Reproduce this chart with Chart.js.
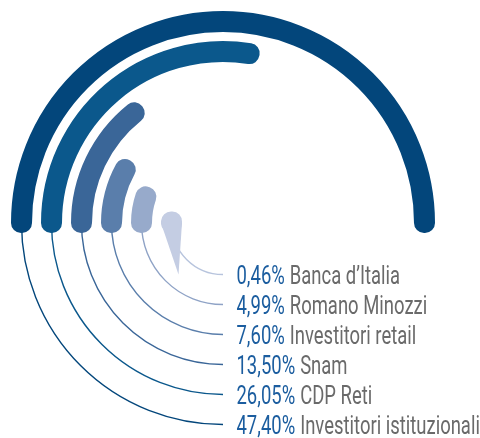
<!DOCTYPE html>
<html><head><meta charset="utf-8">
<script src="https://cdn.jsdelivr.net/npm/chart.js@4"></script>
<style>html,body{margin:0;padding:0;background:#fff}#wrap{width:480px;height:438px;position:relative}canvas{display:block}</style>
</head><body><div id="wrap"><canvas id="c" width="480" height="438"></canvas></div>
<script>
// ---- data (innermost ring first) ----
const categories = ['Banca d\u2019Italia', 'Romano Minozzi', 'Investitori retail', 'Snam', 'CDP Reti', 'Investitori istituzionali'];
const shares = [0.46, 4.99, 7.60, 13.50, 26.05, 47.40];
const shareLabels = ['0,46%', '4,99%', '7,60%', '13,50%', '26,05%', '47,40%'];
const barColors = ['#c4cde3', '#97aacb', '#5a7eab', '#3a6698', '#0b588c', '#03467b'];
const lineColors = ['#b7c4dd', '#8fa3c6', '#5a7eab', '#3a6698', '#0b588c', '#03467b'];

// ---- layout / style ----
const OUTER = 202, INNER = 51, GAP_WEIGHT = 29, STROKE = 20;
const maxShare = Math.max(...shares);
const PCT_COLOR = '#1b5d9f', NAME_COLOR = '#6a6a6a';
const FONT = '400 26px Roboto', SX = 0.71;

const datasets = [];
for (let i = shares.length - 1; i >= 0; i--) {
  datasets.push({
    data: [shares[i]],
    backgroundColor: barColors[i],
    borderColor: barColors[i],
    borderWidth: STROKE,
    borderJoinStyle: 'round',
    borderAlign: 'center',
    weight: 1,
    rotation: -90,
    circumference: shares[i] / maxShare * 180,
    idx: i
  });
  if (i > 0) datasets.push({ data: [], weight: GAP_WEIGHT });
}

function ringInfo(chart) {
  const out = [];
  chart.data.datasets.forEach((ds, k) => {
    if (ds.idx === undefined) return;
    const el = chart.getDatasetMeta(k).data[0];
    if (!el) return;
    out.push({ i: ds.idx, x: el.x, y: el.y, r: (el.innerRadius + el.outerRadius) / 2, el });
  });
  return out;
}

const decor = {
  id: 'decor',
  beforeDatasetsDraw(chart) {
    const ctx = chart.ctx;
    ringInfo(chart).forEach(g => {
      ctx.save();
      ctx.strokeStyle = lineColors[g.i];
      ctx.lineWidth = 1.4;
      ctx.beginPath();
      ctx.arc(g.x, g.y, g.r, Math.PI / 2, Math.PI, false);
      ctx.stroke();
      ctx.restore();
    });
  },
  afterDatasetsDraw(chart) {
    const ctx = chart.ctx;
    ringInfo(chart).forEach(g => {
      if (g.i !== 0) return;
      const half = (STROKE + 1) / 2;
      ctx.save();
      ctx.fillStyle = barColors[g.i];
      ctx.beginPath();
      ctx.moveTo(g.x - g.r - half, g.y);
      ctx.lineTo(g.x - g.r + half, g.y);
      ctx.lineTo(g.x - g.r + 7, g.y + g.r);
      ctx.closePath();
      ctx.fill();
      ctx.restore();
    });
  },
  afterDraw(chart) {
    const ctx = chart.ctx;
    ringInfo(chart).forEach(g => {
      ctx.save();
      ctx.translate(g.x + 13.5, g.y + g.r + 9);
      ctx.scale(SX, 1);
      ctx.font = FONT;
      ctx.textBaseline = 'alphabetic';
      ctx.fillStyle = PCT_COLOR;
      ctx.fillText(shareLabels[g.i], 0, 0);
      const w = ctx.measureText(shareLabels[g.i]).width;
      ctx.fillStyle = NAME_COLOR;
      ctx.fillText(categories[g.i], w + 5 / SX, 0);
      ctx.restore();
    });
  }
};

new Chart(document.getElementById('c'), {
  type: 'doughnut',
  data: { labels: categories, datasets },
  options: {
    responsive: false,
    animation: false,
    events: [],
    radius: OUTER,
    cutout: (INNER / OUTER * 100) + '%',
    layout: { padding: { top: 8, right: 34, left: 0, bottom: 0 } },
    plugins: { legend: { display: false }, tooltip: { enabled: false } }
  },
  plugins: [decor]
});
</script>
</body></html>
